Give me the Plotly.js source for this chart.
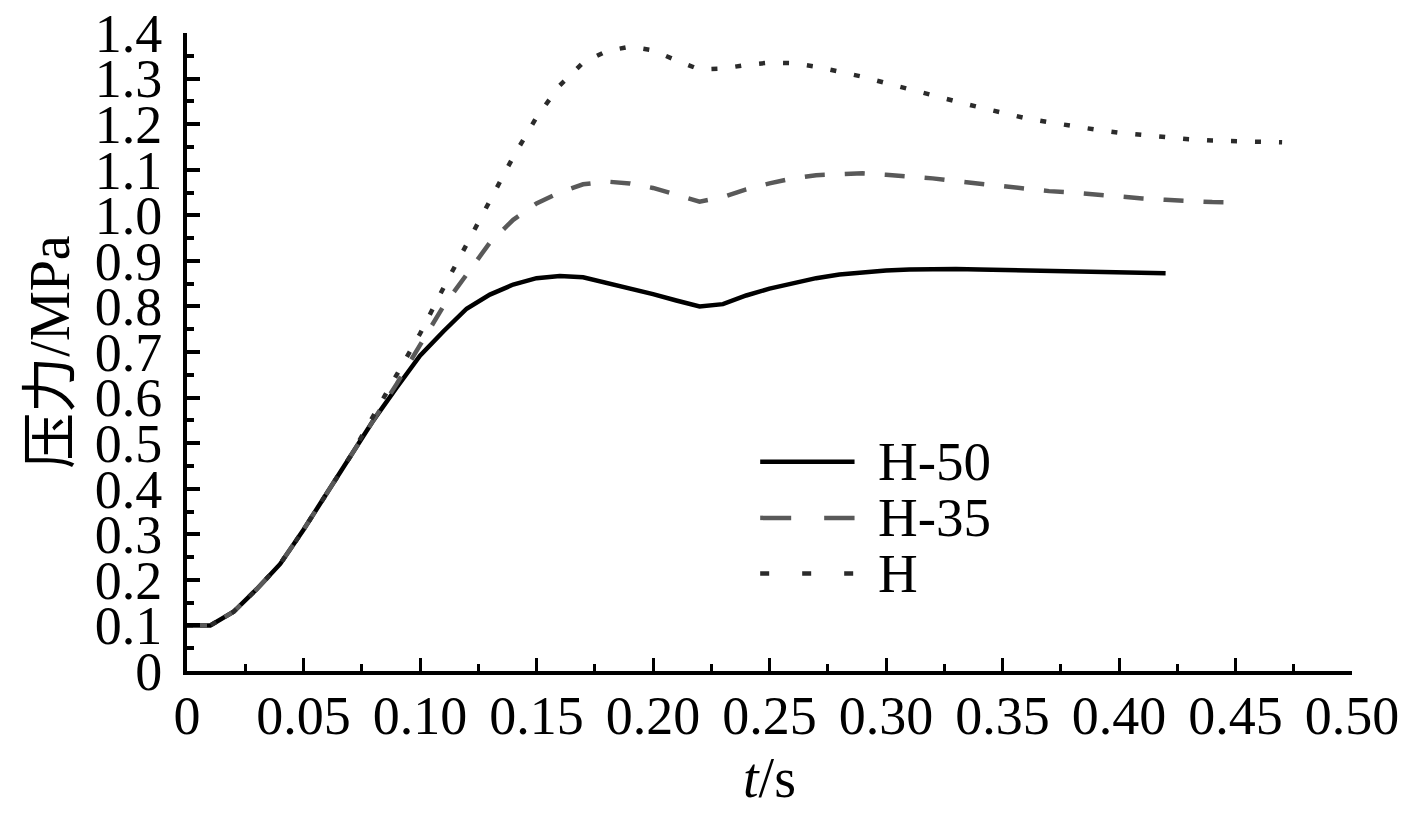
<!DOCTYPE html>
<html>
<head>
<meta charset="utf-8">
<script src="https://cdn.plot.ly/plotly-3.0.1.min.js"></script>
<style>
html,body{margin:0;padding:0;background:#fff;}
#chart{width:1417px;height:822px;}
</style>
</head>
<body>
<div id="chart"></div>
<script>
// time samples (s)
const time = [0.00,0.01,0.02,0.03,0.04,0.05,0.06,0.07,0.08,0.09,
              0.10,0.11,0.12,0.13,0.14,0.15,0.16,0.17,0.18,0.19,
              0.20,0.21,0.22,0.23,0.24,0.25,0.26,0.27,0.28,0.29,
              0.30,0.31,0.32,0.33,0.34,0.35,0.36,0.37,0.38,0.39,
              0.40,0.41,0.42,0.43,0.44,0.45,0.46,0.47];

// pressure (MPa)
const pH50 = [0.100,0.100,0.130,0.180,0.235,0.310,0.390,0.470,0.550,0.622,
              0.692,0.745,0.795,0.826,0.848,0.862,0.867,0.864,0.852,0.840,
              0.827,0.813,0.800,0.805,0.824,0.839,0.851,0.862,0.870,0.875,
              0.879,0.881,0.882,0.882,0.881,0.880,0.879,0.878,0.877,0.876,
              0.875,0.874,0.873];
const pH35 = [0.100,0.100,0.130,0.180,0.235,0.310,0.390,0.470,0.550,0.630,
              0.715,0.800,0.870,0.940,0.990,1.026,1.050,1.068,1.074,1.070,
              1.060,1.045,1.030,1.040,1.057,1.070,1.081,1.088,1.091,1.092,
              1.089,1.086,1.081,1.075,1.069,1.063,1.058,1.053,1.050,1.045,
              1.041,1.037,1.034,1.031,1.029,1.028];
const pH   = [0.100,0.100,0.130,0.180,0.235,0.310,0.390,0.470,0.560,0.650,
              0.740,0.840,0.935,1.035,1.128,1.215,1.285,1.335,1.360,1.370,
              1.362,1.340,1.320,1.322,1.330,1.335,1.334,1.326,1.315,1.304,
              1.290,1.276,1.263,1.250,1.237,1.224,1.213,1.204,1.195,1.188,
              1.181,1.176,1.171,1.167,1.164,1.162,1.161,1.160];

const seriesNames = ['H-50','H-35','H'];
const seriesValues = [pH50, pH35, pH];
const seriesColors = ['#000000','#595959','#2b2b2b'];
const seriesDash = ['solid','20px,20px','6px,18px'];
const legendDash = ['solid','31px,33px','9px,33px'];

const xTickVals = [0,0.05,0.10,0.15,0.20,0.25,0.30,0.35,0.40,0.45,0.50];
const xTickText = ['0','0.05','0.10','0.15','0.20','0.25','0.30','0.35','0.40','0.45','0.50'];
const yTickVals = [0,0.1,0.2,0.3,0.4,0.5,0.6,0.7,0.8,0.9,1.0,1.1,1.2,1.3,1.4];
const yTickText = ['0','0.1','0.2','0.3','0.4','0.5','0.6','0.7','0.8','0.9','1.0','1.1','1.2','1.3','1.4'];

const FONT = 'Liberation Serif, Times New Roman, Noto Sans CJK SC, serif';

const traces = seriesValues.map((vals, i) => ({
  type: 'scatter',
  mode: 'lines',
  name: seriesNames[i],
  x: time.slice(0, vals.length),
  y: vals,
  line: {color: seriesColors[i], width: 4.5, dash: seriesDash[i]},
  showlegend: false,
  hoverinfo: 'skip'
}));

// custom legend (paper coordinates)
const legY = [0.328, 0.240, 0.153];
const shapes = [];
const annotations = [];
seriesNames.forEach((nm, i) => {
  shapes.push({
    type: 'line', xref: 'paper', yref: 'paper',
    x0: 0.492, x1: 0.573, y0: legY[i], y1: legY[i],
    line: {color: seriesColors[i], width: 4.5, dash: legendDash[i]}
  });
  annotations.push({
    xref: 'paper', yref: 'paper', x: 0.591, y: legY[i],
    xanchor: 'left', yanchor: 'middle', showarrow: false,
    text: nm, font: {family: FONT, size: 55, color: '#000'}
  });
});

const layout = {
  width: 1417, height: 822,
  margin: {l: 187, r: 65, t: 33, b: 151},
  paper_bgcolor: '#fff', plot_bgcolor: '#fff',
  font: {family: FONT, size: 54, color: '#000'},
  xaxis: {
    range: [0, 0.5],
    showgrid: false, zeroline: false,
    showline: true, linecolor: '#000', linewidth: 4,
    ticks: 'inside', ticklen: 13, tickwidth: 3, tickcolor: '#000',
    tickvals: xTickVals, ticktext: xTickText,
    ticklabelstandoff: -6,
    tickfont: {family: FONT, size: 54, color: '#000'},
    minor: {dtick: 0.025, tick0: 0, ticks: 'inside', ticklen: 7, tickwidth: 3, tickcolor: '#000', showgrid: false},
    title: {text: '<i>t</i>/s', font: {family: FONT, size: 56, color: '#000'}, standoff: 14}
  },
  yaxis: {
    range: [0, 1.4],
    showgrid: false, zeroline: false,
    showline: true, linecolor: '#000', linewidth: 4,
    ticks: 'inside', ticklen: 13, tickwidth: 4, tickcolor: '#000',
    tickvals: yTickVals, ticktext: yTickText,
    ticklabelstandoff: 10,
    tickfont: {family: FONT, size: 54, color: '#000'},
    minor: {dtick: 0.05, tick0: 0, ticks: 'inside', ticklen: 7, tickwidth: 4, tickcolor: '#000', showgrid: false},
    title: {text: '压力/MPa', font: {family: FONT, size: 56, color: '#000'}, standoff: 8}
  },
  shapes: shapes,
  annotations: annotations,
  showlegend: false
};

Plotly.newPlot('chart', traces, layout, {displayModeBar: false, staticPlot: true});
</script>
</body>
</html>
